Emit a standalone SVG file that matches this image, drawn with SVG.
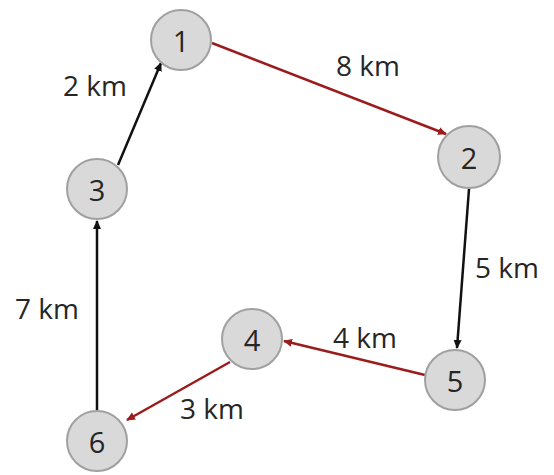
<svg xmlns="http://www.w3.org/2000/svg" width="554" height="475" viewBox="0 0 554 475">
<defs>
<marker id="ab" markerWidth="10" markerHeight="10" refX="8" refY="5" orient="auto" markerUnits="userSpaceOnUse"><path d="M0,1 L9,5 L0,9 z" fill="#111"/></marker>
<marker id="ar" markerWidth="10" markerHeight="10" refX="8" refY="5" orient="auto" markerUnits="userSpaceOnUse"><path d="M0,1 L9,5 L0,9 z" fill="#9b1c1c"/></marker>
</defs>
<style>
.n circle{fill:#d9d9d9;stroke:#a0a0a0;stroke-width:2}
.n text{font-family:"Open Sans","Liberation Sans",sans-serif;font-size:29px;fill:#262626;text-anchor:middle;dominant-baseline:central}
.b{stroke:#111;stroke-width:2.5;fill:none;marker-end:url(#ab)}
.r{stroke:#9b1c1c;stroke-width:2.5;fill:none;marker-end:url(#ar)}
.l{font-family:"Open Sans","Liberation Sans",sans-serif;font-size:28px;fill:#262626;text-anchor:middle;dominant-baseline:central}
</style>
<rect width="554" height="475" fill="#fff"/>
<g id="edges">
<line class="r" x1="212" y1="43" x2="446" y2="134"/>
<line class="b" x1="469" y1="189" x2="457" y2="348"/>
<line class="r" x1="425" y1="375" x2="284" y2="341"/>
<line class="r" x1="230" y1="362" x2="127" y2="420"/>
<line class="b" x1="97" y1="410" x2="97" y2="221"/>
<line class="b" x1="118" y1="165" x2="161" y2="63"/>
<text class="l" x="368" y="65">8 km</text>
<text class="l" x="95" y="85">2 km</text>
<text class="l" x="507" y="267">5 km</text>
<text class="l" x="365" y="337">4 km</text>
<text class="l" x="212" y="408">3 km</text>
<text class="l" x="47" y="308">7 km</text>
</g>
<g id="n1" class="n"><circle cx="181" cy="40" r="30"/><text x="181" y="40">1</text></g>
<g id="n2" class="n"><circle cx="469" cy="157" r="31"/><text x="469" y="157">2</text></g>
<g id="n3" class="n"><circle cx="97" cy="189" r="30"/><text x="97" y="189">3</text></g>
<g id="n4" class="n"><circle cx="252" cy="339" r="30"/><text x="252" y="339">4</text></g>
<g id="n5" class="n"><circle cx="455" cy="380" r="30"/><text x="455" y="380">5</text></g>
<g id="n6" class="n"><circle cx="97" cy="441" r="30"/><text x="97" y="441">6</text></g>
</svg>
